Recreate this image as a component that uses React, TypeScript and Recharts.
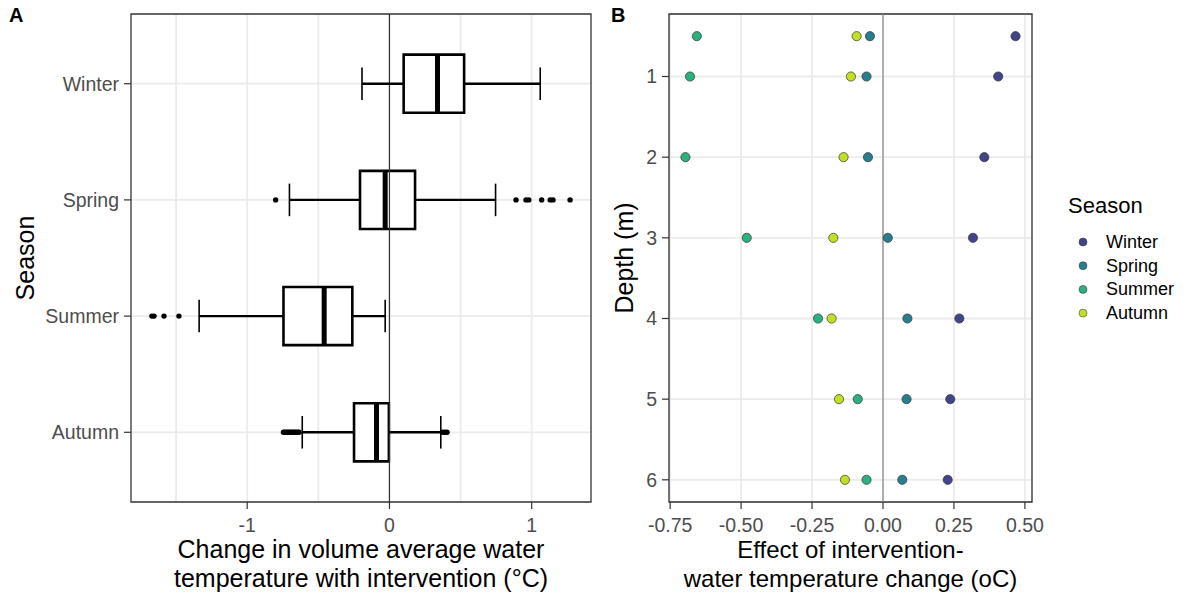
import React from 'react';
import {
  ComposedChart,
  ScatterChart,
  Scatter,
  XAxis,
  YAxis,
  CartesianGrid,
  ReferenceLine,
  ReferenceArea,
} from 'recharts';

const FONT = '"Liberation Sans", Arial, Helvetica, sans-serif';

// ---- Panel A: boxplots of change in volume-average water temperature ----
const seasons = ['Winter', 'Spring', 'Summer', 'Autumn'];
const whiskerLow = [-0.193, -0.703, -1.338, -0.613];
const q1 = [0.1, -0.207, -0.745, -0.249];
const median = [0.338, -0.03, -0.459, -0.091];
const q3 = [0.525, 0.18, -0.261, -0.004];
const whiskerHigh = [1.06, 0.746, -0.03, 0.361];
const winterOutliers: number[] = [];
const springOutliers = [-0.8, 0.89, 0.96, 0.98, 1.07, 1.13, 1.15, 1.27];
const summerOutliers = [-1.67, -1.655, -1.585, -1.48];
const autumnOutliers = [
  -0.745, -0.735, -0.725, -0.715, -0.705, -0.695, -0.685, -0.675, -0.665, -0.655, -0.645, -0.635,
  0.375, 0.39, 0.405,
];
const outliers = [winterOutliers, springOutliers, summerOutliers, autumnOutliers];
const ticksA = [-1, 0, 1];
const gridA = [-1.5, -1, -0.5, 0, 0.5, 1];

// ---- Panel B: effect by depth ----
const depths = [0.5, 1, 2, 3, 4, 5, 6];
const winterEffect = [0.467, 0.406, 0.357, 0.317, 0.269, 0.237, 0.228];
const springEffect = [-0.046, -0.058, -0.053, 0.017, 0.086, 0.083, 0.068];
const summerEffect = [-0.656, -0.68, -0.696, -0.48, -0.229, -0.089, -0.058];
const autumnEffect = [-0.093, -0.113, -0.139, -0.175, -0.181, -0.155, -0.134];
const effects = [winterEffect, springEffect, summerEffect, autumnEffect];
const seasonColors = ['#414487', '#277F8E', '#2BB07F', '#C2DF23'];
const ticksBx = [-0.75, -0.5, -0.25, 0, 0.25, 0.5];
const ticksBy = [1, 2, 3, 4, 5, 6];

const BOX_HALF = 0.25;
const CAP_HALF = 0.14;

const tickStyle = { fill: '#4D4D4D', fontSize: 19.5, fontFamily: FONT };
const tickLineStyle = { stroke: '#333333', strokeWidth: 1.2 };

const XTitle = (props: any) => {
  const { viewBox, lines, size } = props;
  const cx = viewBox.x + viewBox.width / 2;
  return (
    <text textAnchor="middle" fontSize={size} fontFamily={FONT} fill="#000">
      <tspan x={cx} y={viewBox.y + 56}>{lines[0]}</tspan>
      <tspan x={cx} y={viewBox.y + 85}>{lines[1]}</tspan>
    </text>
  );
};

const YTitle = (props: any) => {
  const { viewBox, text, offsetX } = props;
  const cx = viewBox.x + offsetX;
  const cy = viewBox.y + viewBox.height / 2;
  return (
    <text
      x={cx}
      y={cy}
      transform={`rotate(-90, ${cx}, ${cy})`}
      textAnchor="middle"
      dominantBaseline="central"
      fontSize={25}
      fontFamily={FONT}
      fill="#000"
    >
      {text}
    </text>
  );
};

const outlierData = outliers.flatMap((vals, i) => vals.map((v) => ({ x: v, y: i + 1 })));

const PanelA = () => (
  <ComposedChart width={600} height={594} margin={{ top: 14, right: 9, bottom: 0, left: 0 }}>
    <CartesianGrid
      stroke="#EBEBEB"
      strokeWidth={1.8}
      verticalValues={gridA}
      horizontalValues={[1, 2, 3, 4]}
    />
    <XAxis
      type="number"
      dataKey="x"
      domain={[-1.817, 1.417]}
      ticks={ticksA}
      interval={0}
      allowDataOverflow
      height={92}
      tickSize={7}
      tickMargin={9}
      axisLine={false}
      tickLine={tickLineStyle}
      tick={tickStyle}
      label={
        <XTitle
          size={25}
          lines={['Change in volume average water', 'temperature with intervention (°C)']}
        />
      }
    />
    <YAxis
      type="number"
      dataKey="y"
      domain={[0.4, 4.6]}
      reversed
      ticks={[1, 2, 3, 4]}
      interval={0}
      allowDataOverflow
      tickFormatter={(v: number) => seasons[v - 1]}
      width={131}
      tickSize={7}
      tickMargin={5}
      axisLine={false}
      tickLine={tickLineStyle}
      tick={tickStyle}
      label={<YTitle text="Season" offsetX={25} />}
    />
    <ReferenceLine x={0} stroke="#333333" strokeWidth={1.2} />
    {seasons.map((s, i) => (
      <ReferenceLine
        key={`wl-${s}`}
        segment={[{ x: whiskerLow[i], y: i + 1 }, { x: q1[i], y: i + 1 }]}
        stroke="#000"
        strokeWidth={2.4}
      />
    ))}
    {seasons.map((s, i) => (
      <ReferenceLine
        key={`wh-${s}`}
        segment={[{ x: q3[i], y: i + 1 }, { x: whiskerHigh[i], y: i + 1 }]}
        stroke="#000"
        strokeWidth={2.4}
      />
    ))}
    {seasons.map((s, i) => (
      <ReferenceLine
        key={`cl-${s}`}
        segment={[{ x: whiskerLow[i], y: i + 1 - CAP_HALF }, { x: whiskerLow[i], y: i + 1 + CAP_HALF }]}
        stroke="#000"
        strokeWidth={1.6}
      />
    ))}
    {seasons.map((s, i) => (
      <ReferenceLine
        key={`ch-${s}`}
        segment={[{ x: whiskerHigh[i], y: i + 1 - CAP_HALF }, { x: whiskerHigh[i], y: i + 1 + CAP_HALF }]}
        stroke="#000"
        strokeWidth={1.6}
      />
    ))}
    {seasons.map((s, i) => (
      <ReferenceArea
        key={`box-${s}`}
        x1={q1[i]}
        x2={q3[i]}
        y1={i + 1 - BOX_HALF}
        y2={i + 1 + BOX_HALF}
        fill="#FFFFFF"
        fillOpacity={1}
        stroke="#000"
        strokeWidth={2.6}
      />
    ))}
    {seasons.map((s, i) => (
      <ReferenceLine
        key={`med-${s}`}
        segment={[{ x: median[i], y: i + 1 - BOX_HALF }, { x: median[i], y: i + 1 + BOX_HALF }]}
        stroke="#000"
        strokeWidth={5}
      />
    ))}
    <Scatter
      data={outlierData}
      isAnimationActive={false}
      shape={(p: any) => <circle cx={p.cx} cy={p.cy} r={2.7} fill="#000" />}
    />
    <ReferenceArea
      x1={-1.817}
      x2={1.417}
      y1={0.4}
      y2={4.6}
      fill="none"
      stroke="#333333"
      strokeWidth={1.3}
    />
  </ComposedChart>
);

const PanelB = () => (
  <ScatterChart width={595} height={594} margin={{ top: 14, right: 163, bottom: 0, left: 0 }}>
    <CartesianGrid stroke="#EBEBEB" strokeWidth={1.8} />
    <XAxis
      type="number"
      dataKey="x"
      domain={[-0.754, 0.525]}
      ticks={ticksBx}
      interval={0}
      allowDataOverflow
      tickFormatter={(v: number) => v.toFixed(2)}
      height={92}
      tickSize={7}
      tickMargin={9}
      axisLine={false}
      tickLine={tickLineStyle}
      tick={tickStyle}
      label={
        <XTitle
          size={24}
          lines={['Effect of intervention-', 'water temperature change (oC)']}
        />
      }
    />
    <YAxis
      type="number"
      dataKey="y"
      domain={[0.225, 6.275]}
      reversed
      ticks={ticksBy}
      interval={0}
      allowDataOverflow
      width={69}
      tickSize={7}
      tickMargin={5}
      axisLine={false}
      tickLine={tickLineStyle}
      tick={tickStyle}
      label={<YTitle text="Depth (m)" offsetX={24} />}
    />
    <ReferenceLine x={0} stroke="#8C8C8C" strokeWidth={1.3} />
    {seasons.map((s, i) => (
      <Scatter
        key={s}
        name={s}
        data={depths.map((d, j) => ({ x: effects[i][j], y: d }))}
        fill={seasonColors[i]}
        isAnimationActive={false}
        shape={(p: any) => (
          <circle cx={p.cx} cy={p.cy} r={4.6} fill={seasonColors[i]} stroke="#333333" strokeWidth={0.7} />
        )}
      />
    ))}
    <ReferenceArea
      x1={-0.754}
      x2={0.525}
      y1={0.225}
      y2={6.275}
      fill="none"
      stroke="#333333"
      strokeWidth={1.3}
    />
  </ScatterChart>
);

export default function App() {
  return (
    <div
      style={{
        position: 'absolute',
        left: 0,
        top: 0,
        width: 1195,
        height: 594,
        background: '#fff',
        fontFamily: FONT,
      }}
    >
      <div style={{ position: 'absolute', left: 0, top: 0 }}>
        <PanelA />
      </div>
      <div style={{ position: 'absolute', left: 600, top: 0 }}>
        <PanelB />
      </div>
      <svg
        width={1195}
        height={594}
        style={{ position: 'absolute', left: 0, top: 0, pointerEvents: 'none' }}
      >
        <text x={9} y={22} fontSize={20} fontWeight="bold" fontFamily={FONT}>A</text>
        <text x={611} y={22} fontSize={20} fontWeight="bold" fontFamily={FONT}>B</text>
        <text x={1068} y={213} fontSize={22} fontFamily={FONT}>Season</text>
        {seasons.map((s, i) => (
          <g key={s}>
            <circle cx={1083} cy={242 + i * 23.7} r={4} fill={seasonColors[i]} stroke="#333333" strokeWidth={0.5} />
            <text x={1106} y={242 + i * 23.7} dominantBaseline="central" fontSize={18} fontFamily={FONT}>
              {s}
            </text>
          </g>
        ))}
      </svg>
    </div>
  );
}
